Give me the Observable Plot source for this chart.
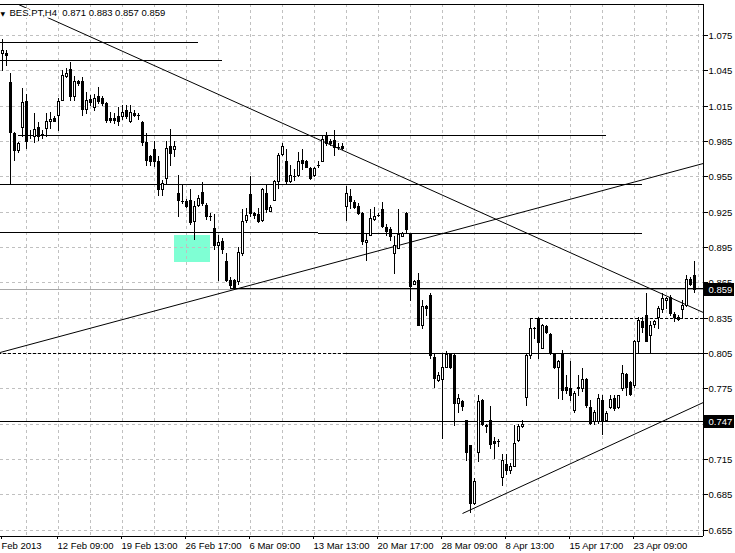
<!DOCTYPE html>
<html><head><meta charset="utf-8">
<script src="https://cdn.jsdelivr.net/npm/d3@7"></script>
<script src="https://cdn.jsdelivr.net/npm/@observablehq/plot@0.6"></script>
<style>html,body{margin:0;padding:0;background:#fff;}#chart{width:735px;height:553px;}</style>
</head><body><div id="chart"></div>
<script>
const symbol = "BES.PT,H4";
// OHLC per H4 bar (bar index 0 = 5 Feb 2013 13:00)
const open = [1.060,1.060,1.035,0.992,0.977,0.997,1.019,0.990,0.989,0.997,0.991,0.996,1.002,1.005,1.007,1.020,1.040,1.046,1.023,1.036,
1.036,1.012,1.021,1.014,1.023,1.022,1.017,1.005,1.005,1.006,1.006,1.011,1.002,1.009,1.007,1.001,0.984,0.972,0.978,0.968,
0.944,0.954,0.981,0.978,0.941,0.934,0.934,0.935,0.917,0.931,0.942,0.931,0.921,0.911,0.897,0.900,0.883,0.867,0.867,0.866,
0.890,0.918,0.940,0.924,0.923,0.918,0.941,0.926,0.935,0.951,0.974,0.968,0.951,0.955,0.956,0.969,0.968,0.962,0.956,0.965,
0.968,0.989,0.985,0.986,0.980,0.981,0.930,0.938,0.933,0.930,0.924,0.899,0.905,0.919,0.922,0.927,0.912,0.910,0.890,0.894,
0.904,0.924,0.907,0.864,0.867,0.829,0.845,0.854,0.802,0.782,0.783,0.793,0.804,0.803,0.763,0.764,0.748,0.727,0.678,0.721,
0.765,0.744,0.748,0.730,0.730,0.700,0.711,0.706,0.709,0.731,0.743,0.768,0.803,0.826,0.835,0.809,0.828,0.821,0.804,0.793,
0.805,0.776,0.775,0.757,0.775,0.775,0.783,0.759,0.747,0.747,0.765,0.748,0.759,0.767,0.759,0.775,0.787,0.780,0.778,0.815,
0.832,0.837,0.820,0.830,0.836,0.842,0.850,0.853,0.838,0.836,0.842,0.846,0.868,0.871];
const high = [1.072,1.062,1.043,0.993,0.984,1.030,1.025,0.994,1.009,1.001,0.994,1.009,1.010,1.006,1.022,1.045,1.047,1.052,1.040,1.037,
1.039,1.027,1.024,1.025,1.031,1.023,1.018,1.010,1.009,1.014,1.016,1.016,1.016,1.011,1.009,1.002,0.992,0.973,0.985,0.972,
0.952,0.985,0.995,0.985,0.956,0.948,0.936,0.944,0.934,0.939,0.950,0.932,0.924,0.923,0.905,0.903,0.890,0.870,0.868,0.895,
0.927,0.928,0.955,0.925,0.928,0.945,0.948,0.931,0.952,0.975,0.983,0.978,0.965,0.961,0.976,0.978,0.969,0.963,0.963,0.968,
0.989,0.993,0.987,0.994,0.983,0.983,0.947,0.944,0.935,0.932,0.925,0.907,0.927,0.929,0.924,0.933,0.915,0.912,0.904,0.927,
0.908,0.925,0.907,0.867,0.873,0.850,0.846,0.856,0.805,0.789,0.805,0.807,0.805,0.805,0.770,0.765,0.748,0.727,0.699,0.769,
0.766,0.745,0.760,0.734,0.732,0.719,0.719,0.712,0.744,0.745,0.748,0.805,0.835,0.827,0.836,0.830,0.829,0.822,0.805,0.799,
0.808,0.786,0.798,0.773,0.786,0.792,0.784,0.765,0.757,0.770,0.769,0.756,0.769,0.769,0.769,0.795,0.788,0.781,0.816,0.836,
0.836,0.856,0.832,0.833,0.845,0.856,0.853,0.854,0.840,0.837,0.850,0.871,0.870,0.883];
const low = [1.045,1.050,0.949,0.969,0.976,0.989,0.979,0.988,0.984,0.986,0.988,0.989,0.996,1.002,0.994,1.020,1.039,1.020,1.020,1.033,
1.007,1.009,1.016,1.011,1.017,1.016,1.001,1.001,1.000,0.999,1.004,1.005,1.001,1.006,1.004,0.982,0.965,0.965,0.964,0.939,
0.939,0.949,0.965,0.972,0.921,0.932,0.929,0.915,0.902,0.930,0.931,0.919,0.918,0.893,0.867,0.890,0.866,0.860,0.860,0.864,
0.888,0.916,0.921,0.920,0.916,0.917,0.925,0.926,0.935,0.945,0.973,0.949,0.950,0.952,0.955,0.961,0.963,0.953,0.955,0.963,
0.968,0.982,0.982,0.973,0.978,0.978,0.918,0.928,0.928,0.923,0.898,0.884,0.905,0.918,0.921,0.912,0.905,0.901,0.873,0.894,
0.904,0.908,0.850,0.864,0.829,0.826,0.837,0.801,0.776,0.781,0.733,0.793,0.792,0.744,0.755,0.757,0.714,0.670,0.677,0.713,
0.744,0.738,0.724,0.716,0.726,0.693,0.702,0.703,0.709,0.730,0.742,0.761,0.801,0.818,0.801,0.809,0.822,0.804,0.792,0.767,
0.766,0.771,0.765,0.755,0.769,0.773,0.759,0.745,0.745,0.746,0.736,0.747,0.758,0.757,0.758,0.774,0.769,0.769,0.776,0.806,
0.823,0.815,0.805,0.827,0.826,0.840,0.843,0.837,0.832,0.833,0.835,0.845,0.863,0.857];
const close = [1.062,1.058,0.993,0.977,0.983,1.018,0.985,0.990,0.995,0.989,0.991,1.002,1.004,1.002,1.019,1.041,1.043,1.023,1.036,1.034,
1.012,1.020,1.018,1.022,1.019,1.017,1.003,1.003,1.003,1.002,1.010,1.006,1.010,1.007,1.007,0.984,0.969,0.968,0.968,0.944,
0.949,0.979,0.975,0.981,0.935,0.934,0.930,0.916,0.930,0.937,0.932,0.921,0.921,0.897,0.899,0.893,0.867,0.863,0.861,0.891,
0.917,0.922,0.924,0.922,0.917,0.944,0.927,0.929,0.951,0.973,0.981,0.951,0.956,0.955,0.968,0.966,0.963,0.954,0.962,0.965,
0.987,0.983,0.983,0.980,0.980,0.979,0.941,0.934,0.929,0.924,0.900,0.901,0.920,0.921,0.922,0.913,0.909,0.904,0.897,0.906,
0.907,0.910,0.862,0.866,0.829,0.845,0.843,0.803,0.784,0.786,0.793,0.804,0.793,0.763,0.767,0.760,0.721,0.678,0.696,0.764,
0.745,0.743,0.728,0.729,0.730,0.714,0.706,0.709,0.729,0.743,0.745,0.803,0.826,0.826,0.814,0.829,0.823,0.805,0.793,0.798,
0.774,0.774,0.769,0.771,0.776,0.783,0.761,0.746,0.755,0.767,0.747,0.754,0.766,0.758,0.769,0.788,0.776,0.770,0.815,0.833,
0.827,0.815,0.829,0.832,0.843,0.852,0.852,0.839,0.836,0.834,0.846,0.868,0.864,0.859];

const priceTicks = [1.075,1.045,1.015,0.985,0.955,0.925,0.895,0.865,0.835,0.805,0.775,0.745,0.715,0.685,0.655];
const hiddenTicks = [0.745]; // covered by the 0.747 price box in the reference
const gridBars = [6,14,22,30,38,46,54,62,70,78,86,94,102,110,118,126,134,142,150,158,166,174];
const labelBars = [0,14,30,46,62,78,94,110,126,142,158];
const labelText = ["Feb 2013","12 Feb 09:00","19 Feb 13:00","26 Feb 17:00","6 Mar 09:00","13 Mar 13:00","20 Mar 17:00","28 Mar 09:00","8 Apr 13:00","15 Apr 17:00","23 Apr 09:00"];

// horizontal drawn levels (solid)
const levelPrice = [1.0689,1.0536,0.9899,0.9486,0.9075,0.9066,0.8600,0.8053,0.7470];
const levelFrom  = [-1,-1,4,-1,-1,79,57,86,-1];
const levelTo    = [49,55,151,160,79,160,177,177,177];
// dashed levels
const dashPrice = [0.8053,0.8348];
const dashFrom  = [-1,132];
const dashTo    = [86,177];
// trend lines (two anchor points each)
const trendBar1   = [4,-0.6,115];
const trendPrice1 = [1.1013,0.8063,0.6694];
const trendBar2   = [175.2,175.2,175.2];
const trendPrice2 = [0.8401,0.9661,0.7637];
// rectangle zone
const zoneFrom = [43], zoneTo = [52], zoneTop = [0.9052], zoneBottom = [0.8826];
// price boxes on the axis
const boxPrice = [0.859, 0.747];

const n = open.length;
const bars = d3.range(n).map(i => ({k: i, o: open[i], h: high[i], l: low[i], c: close[i]}));
const upBars = bars.filter(d => d.c > d.o);
const levelIdx = d3.range(levelPrice.length);
const dashIdx = d3.range(dashPrice.length);
const trendIdx = d3.range(trendBar1.length);
const zoneIdx = d3.range(zoneFrom.length);
const title = `${symbol}\u00a0\u00a0${open[n-1].toFixed(3)} ${high[n-1].toFixed(3)} ${low[n-1].toFixed(3)} ${close[n-1].toFixed(3)}`;

const chart = Plot.plot({
  width: 735, height: 553,
  marginLeft: 0, marginRight: 32, marginTop: 4, marginBottom: 17,
  style: {fontFamily: "'Liberation Sans', Arial, sans-serif", fontSize: "9.5px", background: "white", color: "black", overflow: "visible"},
  x: {type: "linear", domain: [-0.5, 175.25], label: null},
  y: {type: "linear", domain: [0.64965, 1.1014], round: true, label: null},
  marks: [
    Plot.rect(zoneIdx, {x1: i => zoneFrom[i], x2: i => zoneTo[i], y1: i => zoneBottom[i], y2: i => zoneTop[i], fill: "#7fffd4"}),
    Plot.ruleY(priceTicks, {stroke: "#c0c0c0", strokeDasharray: "3,3"}),
    Plot.ruleX(gridBars, {stroke: "#c0c0c0", strokeDasharray: "3,3"}),
    Plot.ruleY([close[n-1]], {stroke: "#a8a8a8"}),
    Plot.ruleY(levelIdx, {y: i => levelPrice[i], x1: i => levelFrom[i], x2: i => levelTo[i], stroke: "black", clip: true}),
    Plot.ruleY(dashIdx, {y: i => dashPrice[i], x1: i => dashFrom[i], x2: i => dashTo[i], stroke: "black", strokeDasharray: "3,2", clip: true}),
    Plot.link(trendIdx, {x1: i => trendBar1[i], y1: i => trendPrice1[i], x2: i => trendBar2[i], y2: i => trendPrice2[i], stroke: "black", clip: true}),
    // wicks
    Plot.ruleX(bars, {x: "k", y1: "h", y2: "l", stroke: "black", insetBottom: -1}),
    // bodies
    Plot.ruleX(bars, {x: "k", y1: d => Math.max(d.o, d.c), y2: d => Math.min(d.o, d.c), stroke: "black", strokeWidth: 3, insetBottom: -1}),
    Plot.ruleX(upBars, {x: "k", y1: "c", y2: "o", stroke: "white", strokeWidth: 1, insetTop: 1}),
    // frame
    Plot.ruleY([1.1014, 0.64965], {stroke: "black"}),
    Plot.ruleX([175.25], {stroke: "black"}),
    // axes
    Plot.axisY({anchor: "right", label: null, ticks: priceTicks, tickFormat: d => hiddenTicks.includes(d) ? "" : d3.format(".3f")(d), tickSize: 4, tickPadding: 1}),
    Plot.axisX({anchor: "bottom", label: null, ticks: labelBars, tickFormat: d => labelText[labelBars.indexOf(d)], tickSize: 3, tickPadding: 3, textAnchor: "start", dx: -1}),
    // price boxes
    Plot.ruleY(boxPrice, {x1: 175.45, x2: 183, stroke: "black", strokeWidth: 13}),
    Plot.text(boxPrice, {x: 176.5, y: d => d, text: d => d.toFixed(3), fill: "white", textAnchor: "start"}),
    // title
    Plot.text([title], {frameAnchor: "top-left", dx: 9, dy: 5, textAnchor: "start", lineAnchor: "top", fill: "black", stroke: "white", strokeWidth: 4}),
    Plot.text(["\u25BC"], {frameAnchor: "top-left", dx: 0, dy: 7, textAnchor: "start", lineAnchor: "top", fontSize: 6, fontFamily: "DejaVu Sans", fill: "black"})
  ]
});
document.getElementById("chart").appendChild(chart);
</script>
</body></html>
